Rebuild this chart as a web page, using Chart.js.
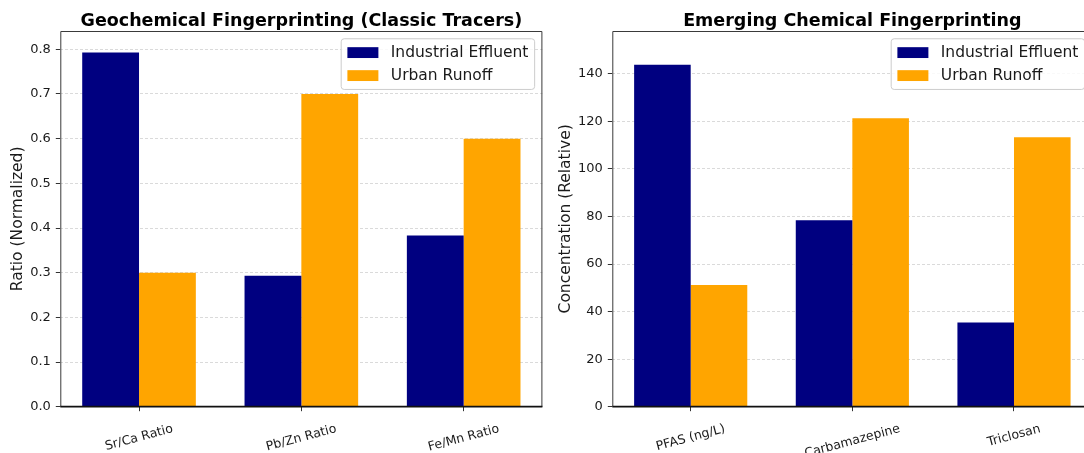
<!DOCTYPE html>
<html><head><meta charset="utf-8">
<script src="https://cdn.jsdelivr.net/npm/chart.js@4.4.1/dist/chart.umd.min.js"></script>
<style>
html,body{margin:0;padding:0;background:#fff;overflow:hidden;width:1084px;height:453px;position:relative;}
#c1{position:absolute;left:0;top:0;}
#c2{position:absolute;left:545px;top:0;}
</style></head><body>
<canvas id="c1" width="545" height="453"></canvas>
<canvas id="c2" width="552" height="453"></canvas>
<script>
// ---- data ----
const seriesNames = ["Industrial Effluent", "Urban Runoff"];
const seriesColors = ["#000080", "#FFA500"];

const classicTitle = "Geochemical Fingerprinting (Classic Tracers)";
const classicYTitle = "Ratio (Normalized)";
const classicCategories = ["Sr/Ca Ratio", "Pb/Zn Ratio", "Fe/Mn Ratio"];
const classicIndustrial = [0.793, 0.293, 0.383];
const classicUrban = [0.300, 0.700, 0.600];
const classicYTicks = [0, 0.1, 0.2, 0.3, 0.4, 0.5, 0.6, 0.7, 0.8];
const classicYMax = 0.841;

const emergingTitle = "Emerging Chemical Fingerprinting";
const emergingYTitle = "Concentration (Relative)";
const emergingCategories = ["PFAS (ng/L)", "Carbamazepine", "Triclosan"];
const emergingIndustrial = [143.8, 78.4, 35.4];
const emergingUrban = [51.2, 121.3, 113.3];
const emergingYTicks = [0, 20, 40, 60, 80, 100, 120, 140];
const emergingYMax = 158;

const FONT = '"DejaVu Sans", "Liberation Sans", sans-serif';

function roundRectPath(ctx, x, y, w, h, r) {
  ctx.beginPath();
  ctx.moveTo(x + r, y);
  ctx.lineTo(x + w - r, y); ctx.arcTo(x + w, y, x + w, y + r, r);
  ctx.lineTo(x + w, y + h - r); ctx.arcTo(x + w, y + h, x + w - r, y + h, r);
  ctx.lineTo(x + r, y + h); ctx.arcTo(x, y + h, x, y + h - r, r);
  ctx.lineTo(x, y + r); ctx.arcTo(x, y, x + r, y, r);
  ctx.closePath();
}

const decor = {
  id: 'decor',
  afterDraw(chart, args, o) {
    const ctx = chart.ctx, a = chart.chartArea, xs = chart.scales.x;
    ctx.save();
    // frame
    ctx.strokeStyle = '#3a3a3a'; ctx.lineWidth = 1;
    ctx.beginPath();
    ctx.moveTo(a.left + 0.5, a.bottom); ctx.lineTo(a.left + 0.5, a.top + 0.5);
    ctx.lineTo(a.right - 0.5, a.top + 0.5); ctx.lineTo(a.right - 0.5, a.bottom);
    ctx.stroke();
    ctx.strokeStyle = '#111'; ctx.lineWidth = 1.8;
    ctx.beginPath(); ctx.moveTo(a.left, a.bottom); ctx.lineTo(a.right, a.bottom); ctx.stroke();

    // title
    ctx.fillStyle = '#000'; ctx.font = 'bold 17.5px ' + FONT;
    ctx.textAlign = 'center'; ctx.textBaseline = 'alphabetic';
    ctx.fillText(o.title, (a.left + a.right) / 2, 26);

    // y title
    ctx.save();
    ctx.translate(o.yTitleX, (a.top + a.bottom) / 2);
    ctx.rotate(-Math.PI / 2);
    ctx.font = '15.5px ' + FONT; ctx.fillStyle = '#1a1a1a';
    ctx.textAlign = 'center'; ctx.textBaseline = 'middle';
    ctx.fillText(o.yTitle, 0, 0);
    ctx.restore();

    // rotated x tick labels (centered like matplotlib rotation=15)
    const fs = 12.5;
    ctx.font = fs + 'px ' + FONT; ctx.fillStyle = '#1a1a1a';
    const ang = 15 * Math.PI / 180;
    o.categories.forEach((lab, i) => {
      const px = xs.getPixelForValue(i);
      const w = ctx.measureText(lab).width;
      const bh = w * Math.sin(ang) + fs * 1.16 * Math.cos(ang);
      const cy = a.bottom + o.xLabelGap + bh / 2;
      ctx.save();
      ctx.translate(px, cy); ctx.rotate(-ang);
      ctx.textAlign = 'center'; ctx.textBaseline = 'middle';
      ctx.fillText(lab, 0, 0);
      ctx.restore();
    });

    // legend (upper right, inside axes)
    const L = 15.5;
    ctx.font = L + 'px ' + FONT;
    const ds = chart.data.datasets;
    const tw = Math.max(...ds.map(d => ctx.measureText(d.label).width));
    const pad = 0.4 * L, hl = 2 * L, htp = 0.8 * L, rowH = 23, th = 15.3;
    const bw = 2 * pad + hl + htp + tw;
    const bh = 2 * pad + th + rowH * (ds.length - 1);
    const bx = a.right - 0.5 * L - bw, by = a.top + 0.5 * L;
    roundRectPath(ctx, bx, by, bw, bh, 3);
    ctx.fillStyle = 'rgba(255,255,255,0.85)'; ctx.fill();
    ctx.strokeStyle = '#cccccc'; ctx.lineWidth = 1; ctx.stroke();
    ds.forEach((d, i) => {
      const cy = by + pad + th / 2 + i * rowH;
      ctx.fillStyle = d.backgroundColor;
      ctx.fillRect(bx + pad, cy - 0.35 * L, hl, 0.7 * L);
      ctx.fillStyle = '#1a1a1a'; ctx.textAlign = 'left'; ctx.textBaseline = 'middle';
      ctx.fillText(d.label, bx + pad + hl + htp, cy + 0.5);
    });
    ctx.restore();
  }
};

function makeChart(id, cfg) {
  const n = cfg.categories.length;
  return new Chart(document.getElementById(id), {
    type: 'bar',
    data: {
      datasets: cfg.series.map((vals, k) => ({
        label: seriesNames[k],
        backgroundColor: seriesColors[k],
        borderWidth: 0,
        data: vals.map((v, i) => ({ x: i, y: v }))
      }))
    },
    options: {
      responsive: false,
      animation: false,
      devicePixelRatio: 1,
      layout: { padding: { top: 31, right: cfg.padRight, left: 0, bottom: 0 } },
      datasets: { bar: { categoryPercentage: 0.7, barPercentage: 1.0, grouped: true } },
      scales: {
        x: {
          type: 'linear',
          offset: false,
          min: -0.485, max: (n - 1) + 0.485,
          afterBuildTicks: s => { s.ticks = cfg.categories.map((c, i) => ({ value: i })); },
          afterFit: s => { s.height = 453 - 406.7; },
          ticks: { display: false },
          grid: { display: true, drawOnChartArea: false, drawTicks: true, tickLength: 4.5, tickColor: '#333', tickWidth: 1, offset: false },
          border: { display: false }
        },
        y: {
          type: 'linear',
          min: 0, max: cfg.yMax,
          z: 1,
          afterBuildTicks: s => { s.ticks = cfg.yTicks.map(v => ({ value: v })); },
          afterFit: s => { s.width = cfg.yAxisWidth; },
          ticks: {
            autoSkip: false, padding: 5, color: '#1a1a1a',
            font: { family: FONT, size: 13 },
            callback: v => cfg.yFmt(v)
          },
          grid: { display: true, drawOnChartArea: true, color: 'rgba(176,176,176,0.6)', lineWidth: 0.8,
                  drawTicks: true, tickLength: 4.5, tickColor: '#333', tickWidth: 1 },
          border: { display: false, dash: [3, 2] }
        }
      },
      plugins: {
        legend: { display: false },
        tooltip: { enabled: false },
        title: { display: false },
        decor: { title: cfg.title, yTitle: cfg.yTitle, yTitleX: cfg.yTitleX, categories: cfg.categories, xLabelGap: 15 }
      }
    },
    plugins: [decor]
  });
}

makeChart('c1', {
  title: classicTitle, yTitle: classicYTitle, categories: classicCategories,
  series: [classicIndustrial, classicUrban], yTicks: classicYTicks, yMax: classicYMax,
  yFmt: v => v.toFixed(1), yAxisWidth: 60.3, padRight: 545 - 542.4, yTitleX: 18
});
makeChart('c2', {
  title: emergingTitle, yTitle: emergingYTitle, categories: emergingCategories,
  series: [emergingIndustrial, emergingUrban], yTicks: emergingYTicks, yMax: emergingYMax,
  yFmt: v => String(v), yAxisWidth: 67.3, padRight: 552 - 547.4, yTitleX: 20.5
});
</script>
</body></html>
